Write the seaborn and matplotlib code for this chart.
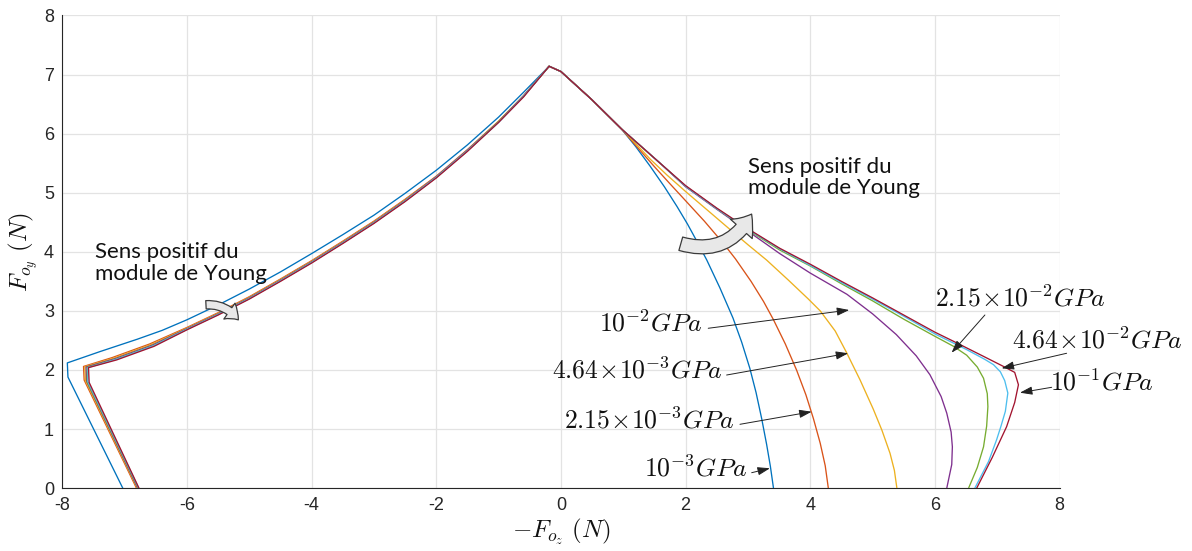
import matplotlib
matplotlib.use("Agg")
import matplotlib.pyplot as plt
import seaborn as sns
import pandas as pd
from matplotlib.patches import FancyArrowPatch

# ---------------- data ----------------
young_labels = ["1e-3", "2.15e-3", "4.64e-3", "1e-2", "2.15e-2", "4.64e-2", "1e-1"]
line_colors = ["#0072BD", "#D95319", "#EDB120", "#7E2F8E", "#77AC30", "#4DBEEE", "#A2142F"]

# left branch (from bottom, through the kink, up to the peak)
left_x_e1 = [-7.03, -7.91, -7.92, -7.4, -6.8, -6.4, -6.0, -5.5, -5.0, -4.5, -4.0, -3.5, -3.0, -2.5, -2.0, -1.5, -1.0, -0.6, -0.19]
left_y_e1 = [0.0, 1.88, 2.12, 2.31, 2.52, 2.67, 2.85, 3.10, 3.37, 3.66, 3.97, 4.29, 4.62, 4.99, 5.38, 5.81, 6.28, 6.70, 7.14]
left_x_e2 = [-6.81, -7.65, -7.66, -7.2, -6.6, -6.0, -5.5, -5.0, -4.5, -4.0, -3.5, -3.0, -2.5, -2.0, -1.5, -1.0, -0.6, -0.19]
left_y_e2 = [0.0, 1.83, 2.06, 2.21, 2.44, 2.72, 2.97, 3.24, 3.54, 3.85, 4.18, 4.52, 4.89, 5.28, 5.73, 6.21, 6.64, 7.14]
left_x_e3 = [-6.80, -7.63, -7.64, -7.18, -6.58, -6.0, -5.5, -5.0, -4.5, -4.0, -3.5, -3.0, -2.5, -2.0, -1.5, -1.0, -0.6, -0.19]
left_y_e3 = [0.0, 1.82, 2.055, 2.20, 2.43, 2.71, 2.96, 3.23, 3.53, 3.84, 4.17, 4.51, 4.88, 5.27, 5.72, 6.21, 6.64, 7.14]
left_x_e4 = [-6.79, -7.61, -7.62, -7.16, -6.56, -6.0, -5.5, -5.0, -4.5, -4.0, -3.5, -3.0, -2.5, -2.0, -1.5, -1.0, -0.6, -0.19]
left_y_e4 = [0.0, 1.81, 2.05, 2.19, 2.42, 2.70, 2.95, 3.22, 3.52, 3.83, 4.16, 4.50, 4.87, 5.27, 5.72, 6.20, 6.64, 7.14]
left_x_e5 = [-6.78, -7.60, -7.60, -7.15, -6.55, -6.0, -5.5, -5.0, -4.5, -4.0, -3.5, -3.0, -2.5, -2.0, -1.5, -1.0, -0.6, -0.19]
left_y_e5 = [0.0, 1.80, 2.045, 2.18, 2.41, 2.69, 2.94, 3.21, 3.51, 3.82, 4.15, 4.49, 4.86, 5.26, 5.71, 6.20, 6.63, 7.14]
left_x_e6 = [-6.775, -7.59, -7.59, -7.14, -6.54, -6.0, -5.5, -5.0, -4.5, -4.0, -3.5, -3.0, -2.5, -2.0, -1.5, -1.0, -0.6, -0.19]
left_y_e6 = [0.0, 1.80, 2.04, 2.18, 2.41, 2.69, 2.94, 3.21, 3.51, 3.82, 4.15, 4.49, 4.86, 5.26, 5.71, 6.19, 6.63, 7.14]
left_x_e7 = [-6.77, -7.57, -7.58, -7.13, -6.53, -6.0, -5.5, -5.0, -4.5, -4.0, -3.5, -3.0, -2.5, -2.0, -1.5, -1.0, -0.6, -0.19]
left_y_e7 = [0.0, 1.79, 2.04, 2.17, 2.40, 2.68, 2.93, 3.20, 3.50, 3.81, 4.14, 4.48, 4.85, 5.25, 5.70, 6.19, 6.62, 7.14]

# right branch (from just after the peak down to the x axis)
right_x_e1 = [0.0, 0.5, 0.97, 1.2, 1.43, 1.66, 1.86, 2.03, 2.18, 2.34, 2.55, 2.76, 2.9, 3.03, 3.13, 3.22, 3.3, 3.36, 3.41]
right_y_e1 = [7.05, 6.57, 6.08, 5.78, 5.45, 5.10, 4.77, 4.47, 4.18, 3.86, 3.39, 2.88, 2.47, 2.03, 1.62, 1.18, 0.74, 0.37, 0.0]
right_x_e2 = [0.0, 0.5, 0.97, 1.25, 1.5, 1.75, 1.96, 2.3, 2.6, 2.8, 3.05, 3.25, 3.41, 3.6, 3.78, 3.93, 4.05, 4.16, 4.24, 4.29]
right_y_e2 = [7.05, 6.57, 6.08, 5.74, 5.44, 5.15, 4.91, 4.52, 4.15, 3.88, 3.50, 3.16, 2.85, 2.44, 2.0, 1.58, 1.18, 0.76, 0.38, 0.0]
right_x_e3 = [0.0, 0.5, 0.97, 1.2, 1.43, 1.7, 2.0, 2.4, 2.71, 3.0, 3.3, 3.65, 3.97, 4.16, 4.4, 4.58, 4.8, 5.01, 5.15, 5.28, 5.35, 5.39]
right_y_e3 = [7.05, 6.57, 6.08, 5.83, 5.57, 5.30, 5.02, 4.66, 4.38, 4.12, 3.86, 3.52, 3.20, 3.00, 2.66, 2.30, 1.83, 1.34, 0.98, 0.59, 0.30, 0.0]
right_x_e4 = [0.0, 0.5, 0.97, 1.59, 2.0, 2.5, 3.0, 3.51, 4.0, 4.59, 5.0, 5.38, 5.7, 5.92, 6.1, 6.19, 6.26, 6.28, 6.27, 6.19]
right_y_e4 = [7.05, 6.57, 6.08, 5.50, 5.10, 4.72, 4.35, 3.97, 3.64, 3.28, 2.95, 2.60, 2.24, 1.92, 1.55, 1.27, 0.95, 0.70, 0.40, 0.0]
right_x_e5 = [0.0, 0.5, 0.97, 1.59, 2.0, 2.5, 3.0, 3.51, 4.0, 4.5, 5.0, 5.5, 6.0, 6.3, 6.51, 6.68, 6.78, 6.84, 6.85, 6.83, 6.78, 6.68, 6.54]
right_y_e5 = [7.05, 6.57, 6.08, 5.50, 5.11, 4.73, 4.37, 4.03, 3.76, 3.46, 3.17, 2.86, 2.57, 2.40, 2.25, 2.05, 1.86, 1.60, 1.38, 1.05, 0.70, 0.35, 0.0]
right_x_e6 = [0.0, 0.5, 0.97, 1.59, 2.0, 2.5, 3.0, 3.51, 4.0, 4.5, 5.0, 5.5, 6.0, 6.5, 6.8, 6.94, 7.05, 7.12, 7.17, 7.13, 7.06, 6.99, 6.86, 6.64]
right_y_e6 = [7.05, 6.57, 6.08, 5.50, 5.11, 4.73, 4.38, 4.05, 3.77, 3.48, 3.20, 2.91, 2.61, 2.35, 2.18, 2.09, 1.97, 1.82, 1.61, 1.30, 1.05, 0.82, 0.45, 0.0]
right_x_e7 = [0.0, 0.5, 0.97, 1.59, 2.0, 2.5, 3.0, 3.51, 4.0, 4.5, 5.0, 5.5, 6.0, 6.29, 6.8, 7.1, 7.28, 7.34, 7.28, 7.15, 6.92, 6.67]
right_y_e7 = [7.05, 6.57, 6.08, 5.50, 5.12, 4.74, 4.39, 4.06, 3.79, 3.50, 3.22, 2.93, 2.64, 2.49, 2.22, 2.06, 1.96, 1.75, 1.45, 1.04, 0.52, 0.0]

x_ticks = [-8, -6, -4, -2, 0, 2, 4, 6, 8]
y_ticks = [0, 1, 2, 3, 4, 5, 6, 7, 8]

# annotation texts and arrows
ann_labels = [r"$10^{-2}GPa$", r"$4.64\!\times\!10^{-3}GPa$", r"$2.15\!\times\!10^{-3}GPa$", r"$10^{-3}GPa$",
              r"$2.15\!\times\!10^{-2}GPa$", r"$4.64\!\times\!10^{-2}GPa$", r"$10^{-1}GPa$"]
ann_text_xy = [(2.26, 2.795), (2.583, 2.0), (2.776, 1.154), (2.984, 0.342),
               (6.0, 3.218), (7.236, 2.508), (7.845, 1.797)]
ann_ha = ["right", "right", "right", "right", "left", "left", "left"]
ann_tail = [(2.363, 2.706), (2.658, 1.915), (2.872, 1.081), (3.06, 0.262),
            (6.802, 2.931), (8.113, 2.283), (7.873, 1.707)]
ann_head = [(4.625, 3.015), (4.609, 2.283), (4.022, 1.294), (3.353, 0.337),
            (6.268, 2.293), (7.07, 2.029), (7.364, 1.616)]

# ---------------- build long table ----------------
lefts_x = [left_x_e1, left_x_e2, left_x_e3, left_x_e4, left_x_e5, left_x_e6, left_x_e7]
lefts_y = [left_y_e1, left_y_e2, left_y_e3, left_y_e4, left_y_e5, left_y_e6, left_y_e7]
rights_x = [right_x_e1, right_x_e2, right_x_e3, right_x_e4, right_x_e5, right_x_e6, right_x_e7]
rights_y = [right_y_e1, right_y_e2, right_y_e3, right_y_e4, right_y_e5, right_y_e6, right_y_e7]
frames = []
for lab, lx, ly, rx, ry in zip(young_labels, lefts_x, lefts_y, rights_x, rights_y):
    xx = list(lx) + list(rx)
    yy = list(ly) + list(ry)
    frames.append(pd.DataFrame({"x": xx, "y": yy, "E": lab}))
df = pd.concat(frames, ignore_index=True)

# ---------------- style ----------------
sns.set_style("white")
plt.rcParams["font.family"] = ["Liberation Sans", "DejaVu Sans"]
plt.rcParams["mathtext.fontset"] = "cm"
plt.rcParams["axes.unicode_minus"] = False

fig = plt.figure(figsize=(11.92, 5.51), dpi=100)
ax = fig.add_axes([0.0523, 0.114, 0.8366, 0.858])

sns.lineplot(data=df, x="x", y="y", hue="E", units="E", estimator=None, sort=False,
             palette=dict(zip(young_labels, line_colors)), hue_order=young_labels,
             linewidth=0.95, legend=False, ax=ax, zorder=3)

ax.set_xlim(-8, 8)
ax.set_ylim(0, 8)
ax.set_xticks(x_ticks)
ax.set_yticks(y_ticks)
ax.set_xticklabels([str(v) for v in x_ticks])
ax.set_yticklabels([str(v) for v in y_ticks])
ax.grid(True, color="#e3e3e3", linewidth=0.9, zorder=0)
ax.set_axisbelow(True)
for s in ["top", "right"]:
    ax.spines[s].set_visible(False)
for s in ["left", "bottom"]:
    ax.spines[s].set_color("#262626")
    ax.spines[s].set_linewidth(0.8)
ax.tick_params(direction="in", length=6, width=0.8, color="#262626", labelcolor="#262626",
               labelsize=13, pad=6)

ax.set_xlabel(r"$-F_{o_z}\ (N)$", fontsize=18, labelpad=2, color="#111111")
ax.set_ylabel(r"$F_{o_y}\ (N)$", fontsize=18, labelpad=3, color="#111111")

for lab, txy, ha, tail, head in zip(ann_labels, ann_text_xy, ann_ha, ann_tail, ann_head):
    ax.text(txy[0], txy[1], lab, ha=ha, va="center", fontsize=18.5, color="#111111", zorder=5)
    ax.annotate("", xy=head, xytext=tail,
                arrowprops=dict(arrowstyle="-|>,head_length=0.75,head_width=0.25",
                                color="#222222", lw=0.7, shrinkA=0, shrinkB=0), zorder=5)

# "Sens positif" notes
ax.text(-7.48, 3.81, "Sens positif du\nmodule de Young", family="Lato", fontsize=16,
        ha="left", va="center", linespacing=1.1, color="#111111", zorder=5)
ax.text(3.0, 5.257, "Sens positif du\nmodule de Young", family="Lato", fontsize=16,
        ha="left", va="center", linespacing=1.1, color="#111111", zorder=5)

big = FancyArrowPatch((1.88, 4.15), (3.08, 4.68), connectionstyle="arc3,rad=0.42",
                      arrowstyle="simple,head_width=21,head_length=13,tail_width=10",
                      facecolor="#e8e8e8", edgecolor="#3a3a3a", lw=0.9, zorder=6)
ax.add_patch(big)
small = FancyArrowPatch((-5.74, 3.1), (-5.15, 2.81), connectionstyle="arc3,rad=-0.3",
                        arrowstyle="simple,head_width=14,head_length=9,tail_width=6",
                        facecolor="#e8e8e8", edgecolor="#3a3a3a", lw=0.9, zorder=6)
ax.add_patch(small)

fig.savefig("out.png", dpi=100)
